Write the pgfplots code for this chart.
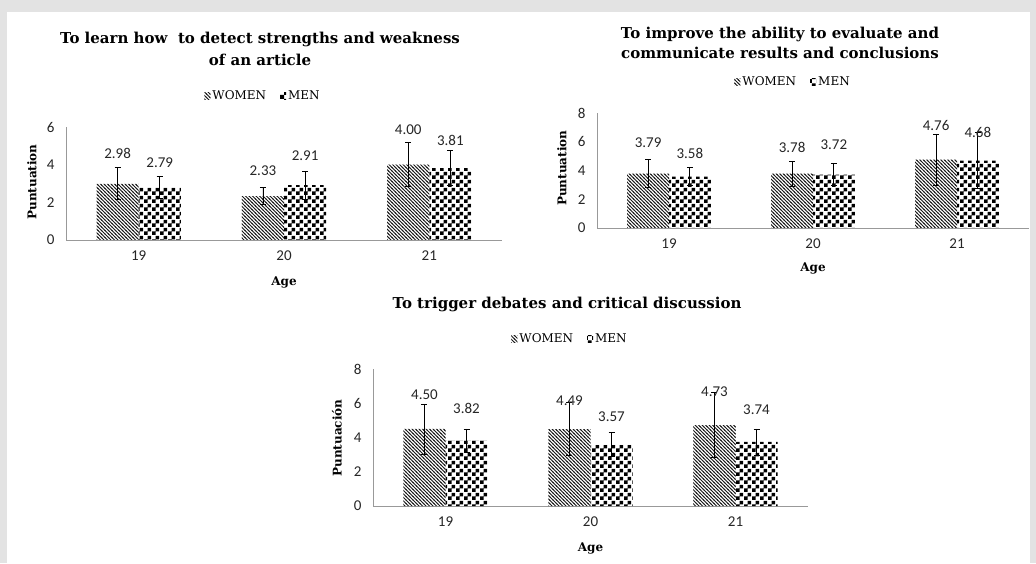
\documentclass[border=0pt]{standalone}
\usepackage{fontspec}
\setmainfont{DejaVu Serif}
\newfontfamily\calib{Carlito}
\usepackage{pgfplots}
\pgfplotsset{compat=1.18}
\usepackage{pgfplotstable}
\usetikzlibrary{patterns}

\pgfdeclarepatternformonly{bigchecker}{\pgfpointorigin}{\pgfqpoint{8pt}{8pt}}{\pgfqpoint{8pt}{8pt}}{%
  \pgfpathrectangle{\pgfpointorigin}{\pgfqpoint{4pt}{4pt}}%
  \pgfpathrectangle{\pgfqpoint{4pt}{4pt}}{\pgfqpoint{4pt}{4pt}}%
  \pgfusepath{fill}}
\pgfdeclarepatternformonly{nwl}{\pgfqpoint{-1pt}{-1pt}}{\pgfqpoint{4.5pt}{4.5pt}}{\pgfqpoint{3.5pt}{3.5pt}}{%
  \pgfsetlinewidth{0.9pt}%
  \pgfpathmoveto{\pgfqpoint{-0.5pt}{4pt}}%
  \pgfpathlineto{\pgfqpoint{4pt}{-0.5pt}}%
  \pgfusepath{stroke}}

% x, women, women error, women label y, men, men error, men label y
\pgfplotstableread{
x w ew lw m em lm
0 2.98 0.85 4.62 2.79 0.60 4.09
1 2.33 0.45 3.66 2.91 0.75 4.46
2 4.00 1.18 5.84 3.81 0.93 5.31
}\dataA
\pgfplotstableread{
x w ew lw m em lm
0 3.79 0.95 5.93 3.58 0.64 5.20
1 3.78 0.88 5.61 3.72 0.78 5.77
2 4.76 1.78 7.10 4.68 1.95 6.63
}\dataB
\pgfplotstableread{
x w ew lw m em lm
0 4.50 1.46 6.48 3.82 0.68 5.70
1 4.49 1.55 6.15 3.57 0.70 5.22
2 4.73 1.88 6.68 3.74 0.76 5.65
}\dataC

\pgfplotsset{
  panel/.style={
    scale only axis, xmin=-0.5, xmax=2.5, ymin=0,
    /pgf/number format/assume math mode=true,
    axis x line=bottom, axis y line=left,
    axis line style={-, black!40, line width=0.8pt},
    xtick={0,1,2}, xticklabels={19,20,21},
    major tick length=0pt,
    tick label style={font=\calib\fontsize{15}{17}\selectfont, black!85},
    xticklabel style={yshift=-7pt},
    yticklabel style={xshift=-8pt},
    label style={font=\bfseries\fontsize{12}{14}\selectfont},
    legend style={draw=none, fill=none, anchor=center, legend columns=2,
      font=\fontsize{12}{14}\selectfont,
      /tikz/every even column/.append style={column sep=12pt}},
    legend image code/.code={\path[##1,draw=none] (0pt,-3.5pt) rectangle (6pt,3.5pt);},
  },
  ebar/.style={error bars/.cd, y dir=both, y explicit,
    error bar style={black, line width=0.8pt},
    error mark options={black, rotate=90, mark size=3pt, line width=0.8pt}},
  wbar/.style={ybar, bar width=0.29, bar shift=0pt, draw=none,
    pattern=nwl, pattern color=black!90, ebar},
  mbar/.style={ybar, bar width=0.29, bar shift=0pt, draw=none,
    pattern=bigchecker, pattern color=black, ebar},
  lab/.style={draw=none, mark=none, forget plot, nodes near coords, point meta=explicit,
    nodes near coords style={font=\calib\fontsize{15}{17}\selectfont, anchor=center, black!85,
      /pgf/number format/.cd, fixed, fixed zerofill, precision=2, assume math mode=true}},
}

\begin{document}
\begin{tikzpicture}
\fill[black!11] (0pt,0pt) rectangle (1036pt,563pt);
\fill[white] (7pt,0pt) rectangle (1030pt,551pt);

% Panel 1
\begin{axis}[panel, at={(66pt,323pt)}, anchor=south west, width=436pt, height=113pt,
  ymax=6, ytick={0,2,4,6},
  xlabel={Age}, ylabel={Puntuation},
  xlabel style={at={(axis description cs:0.5,-0.372)}, anchor=center},
  ylabel style={at={(axis description cs:-0.078,0.513)}, anchor=center},
  legend style={at={(0.452,1.274)}}]
\addplot[wbar] table[x expr=\thisrow{x}-0.145, y=w, y error=ew]{\dataA};
\addplot[mbar] table[x expr=\thisrow{x}+0.145, y=m, y error=em]{\dataA};
\addplot[lab] table[x expr=\thisrow{x}-0.145, y=lw, meta=w]{\dataA};
\addplot[lab] table[x expr=\thisrow{x}+0.145, y=lm, meta=m]{\dataA};
\legend{WOMEN, MEN}
\end{axis}

% Panel 2
\begin{axis}[panel, at={(597pt,335pt)}, anchor=south west, width=432pt, height=115pt,
  ymax=8, ytick={0,2,4,6,8},
  xlabel={Age}, ylabel={Puntuation},
  xlabel style={at={(axis description cs:0.5,-0.348)}, anchor=center},
  ylabel style={at={(axis description cs:-0.081,0.52)}, anchor=center},
  legend style={at={(0.454,1.27)}}]
\addplot[wbar] table[x expr=\thisrow{x}-0.145, y=w, y error=ew]{\dataB};
\addplot[mbar] table[x expr=\thisrow{x}+0.145, y=m, y error=em]{\dataB};
\addplot[lab] table[x expr=\thisrow{x}-0.145, y=lw, meta=w]{\dataB};
\addplot[lab] table[x expr=\thisrow{x}+0.145, y=lm, meta=m]{\dataB};
\legend{WOMEN, MEN}
\end{axis}

% Panel 3
\begin{axis}[panel, at={(373pt,57pt)}, anchor=south west, width=435pt, height=137pt,
  ymax=8, ytick={0,2,4,6,8},
  xlabel={Age}, ylabel={Puntuación},
  xlabel style={at={(axis description cs:0.5,-0.307)}, anchor=center},
  ylabel style={at={(axis description cs:-0.083,0.496)}, anchor=center},
  legend style={at={(0.453,1.219)}}]
\addplot[wbar] table[x expr=\thisrow{x}-0.145, y=w, y error=ew]{\dataC};
\addplot[mbar] table[x expr=\thisrow{x}+0.145, y=m, y error=em]{\dataC};
\addplot[lab] table[x expr=\thisrow{x}-0.145, y=lw, meta=w]{\dataC};
\addplot[lab] table[x expr=\thisrow{x}+0.145, y=lm, meta=m]{\dataC};
\legend{WOMEN, MEN}
\end{axis}

% Titles
\node[align=center, font=\bfseries\fontsize{15}{22}\selectfont] at (260pt,514pt) {To learn how\ \ to detect strengths and weakness\\of an article};
\node[align=center, font=\bfseries\fontsize{15}{20}\selectfont] at (780pt,520pt) {To improve the ability to evaluate and\\communicate results and conclusions};
\node[align=center, font=\bfseries\fontsize{15}{20}\selectfont] at (567pt,259pt) {To trigger debates and critical discussion};
\end{tikzpicture}
\end{document}
